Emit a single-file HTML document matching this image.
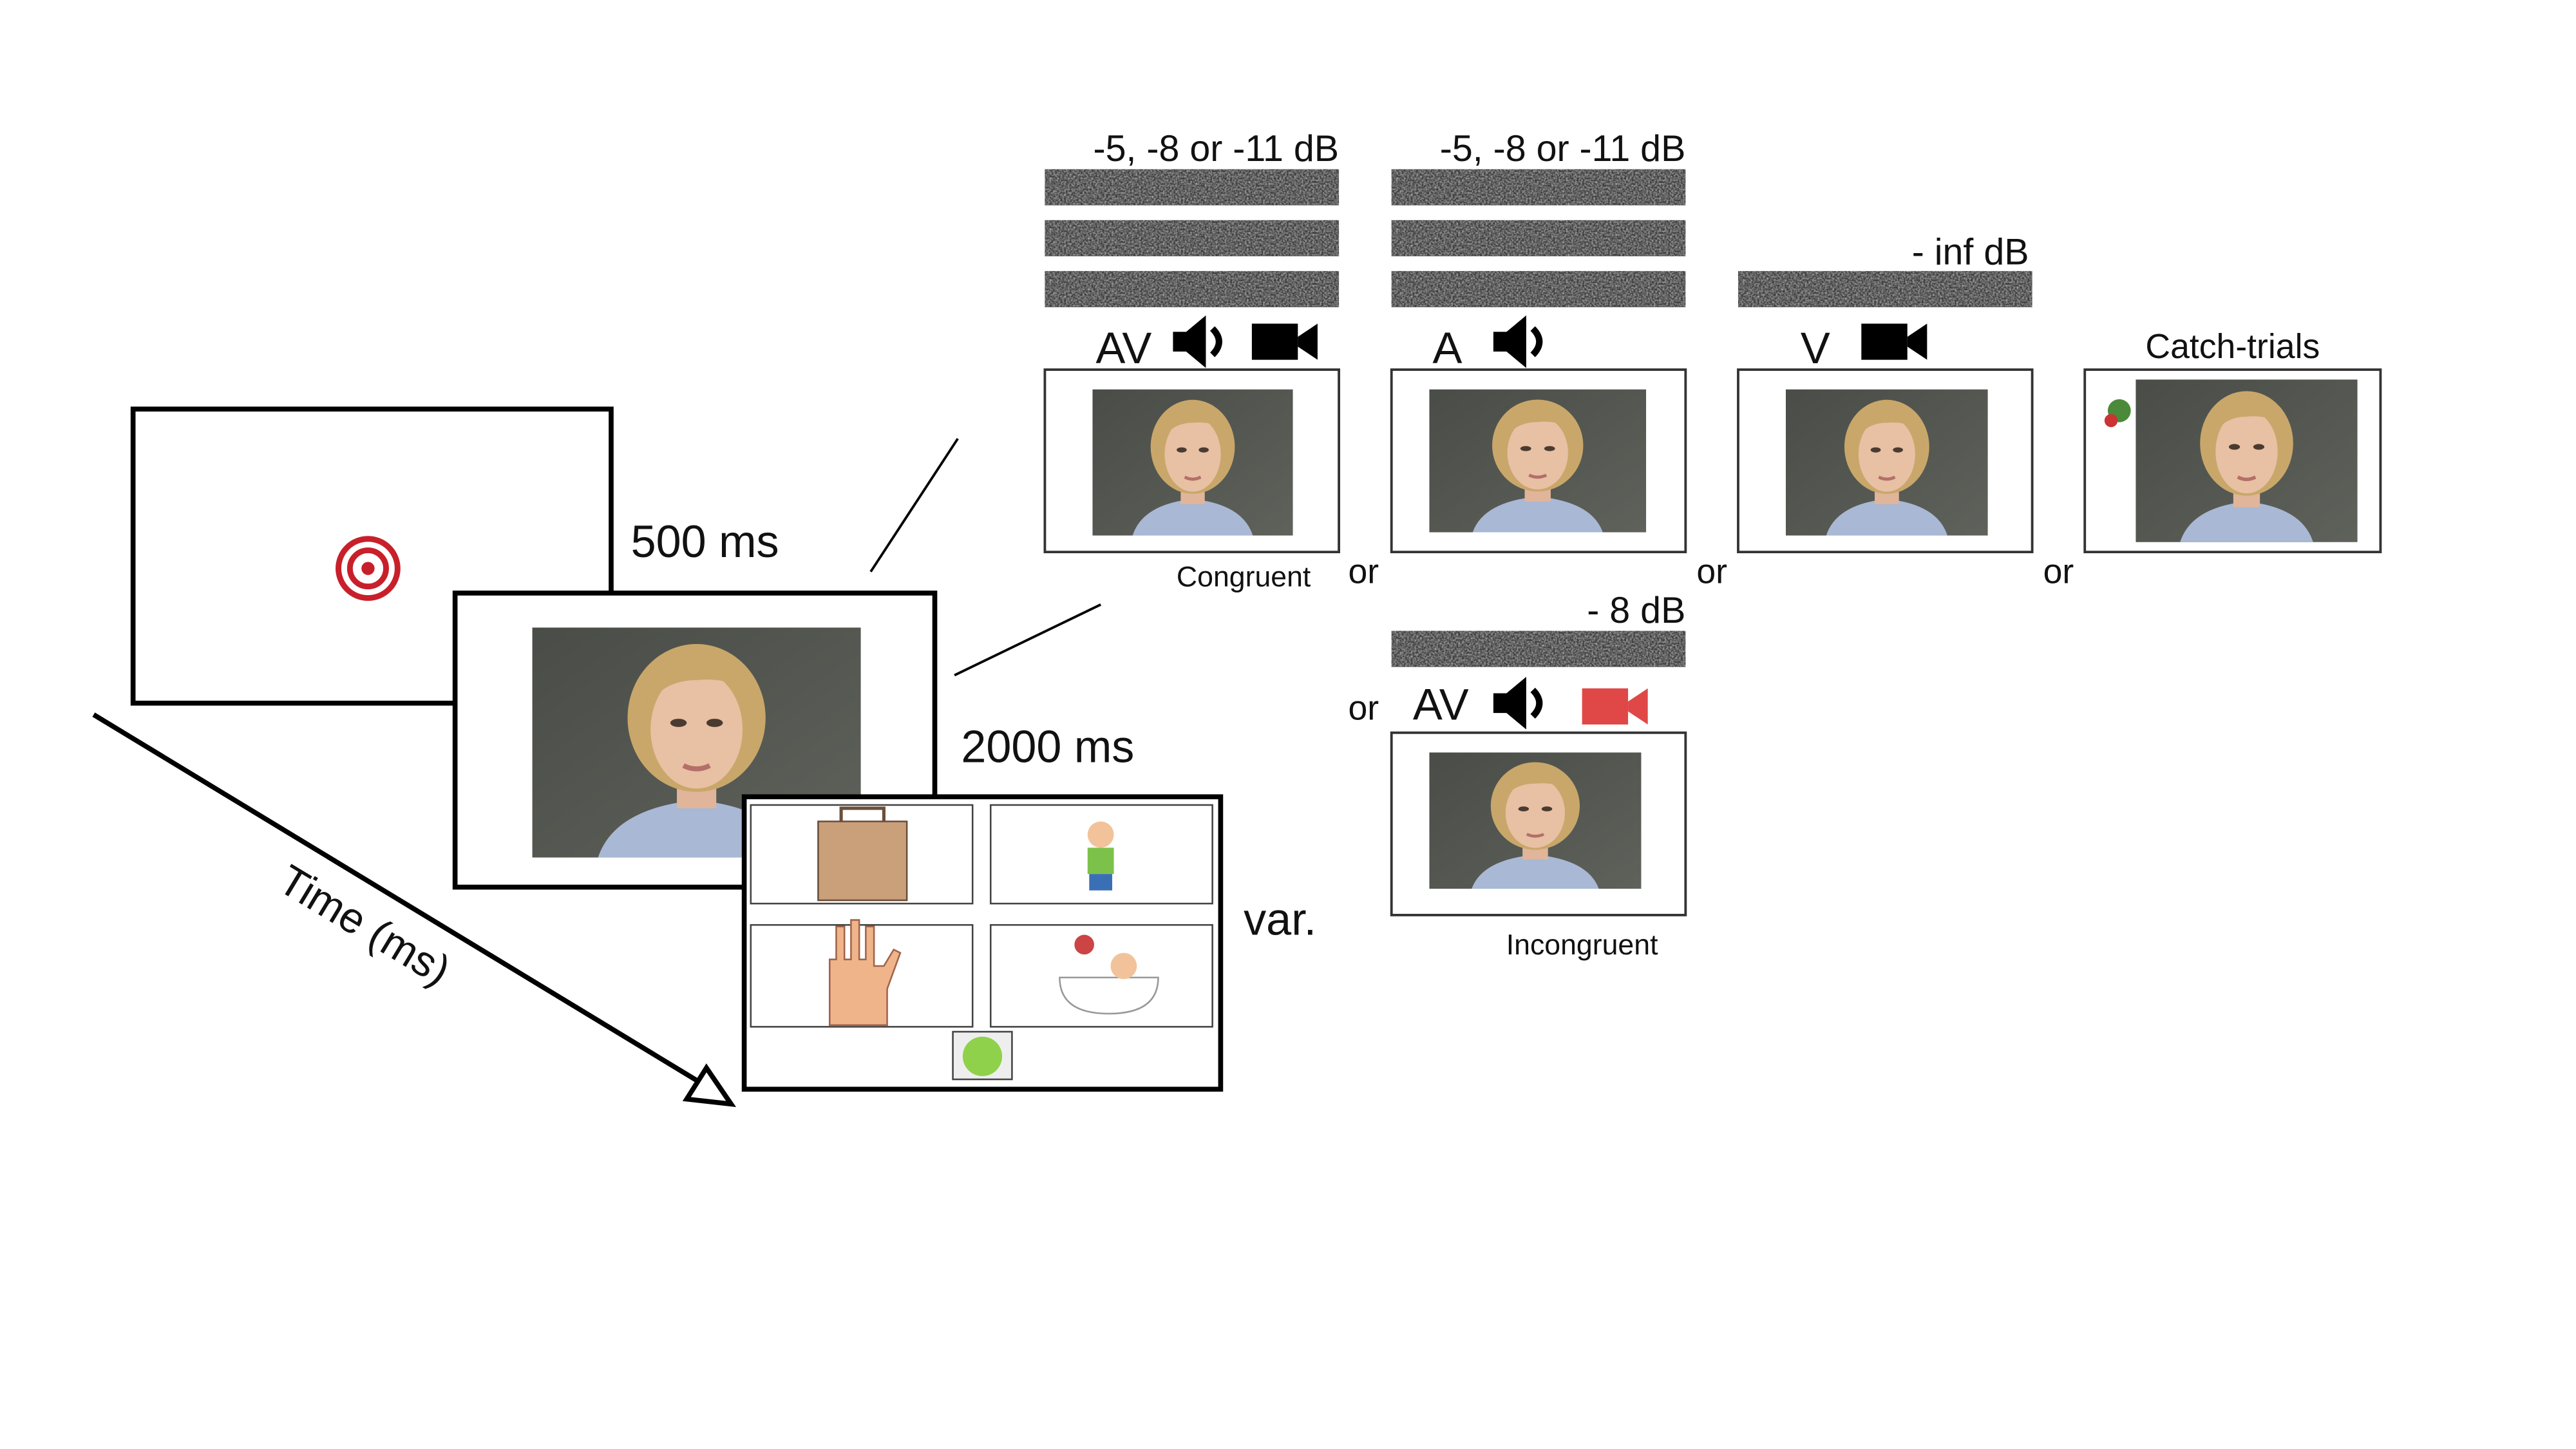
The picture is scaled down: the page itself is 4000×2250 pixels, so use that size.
<!DOCTYPE html>
<html><head><meta charset="utf-8"><style>
html,body{margin:0;padding:0;background:#fff;}
svg{display:block;}
text{font-family:"Liberation Sans",sans-serif;fill:#111;}
</style></head><body>
<svg width="4000" height="2250" viewBox="0 0 1568 882" xmlns="http://www.w3.org/2000/svg">
<defs>
<filter id="nz" x="0" y="0" width="100%" height="100%">
<feTurbulence type="fractalNoise" baseFrequency="0.9" numOctaves="2" seed="3"/>
<feColorMatrix type="matrix" values="0 0 0 0 0.55  0 0 0 0 0.55  0 0 0 0 0.55  0 0 0 -1.4 1.0"/>
</filter>
<linearGradient id="bg" x1="0" y1="0" x2="1" y2="1">
<stop offset="0" stop-color="#4a4d47"/><stop offset="1" stop-color="#5e625b"/></linearGradient>
<symbol id="photo" viewBox="0 0 200 140" preserveAspectRatio="none">
<rect width="200" height="140" fill="url(#bg)"/>
<path d="M40 140 Q50 110 100 105 Q150 110 160 140Z" fill="#a9b8d4"/>
<rect x="88" y="80" width="24" height="30" fill="#e0b59a"/>
<ellipse cx="100" cy="55" rx="42" ry="45" fill="#c9a76a"/>
<ellipse cx="100" cy="62" rx="28" ry="36" fill="#e8c0a4"/>
<path d="M70 40 Q100 10 132 40 Q120 30 100 32 Q80 32 70 48Z" fill="#c9a76a"/>
<ellipse cx="89" cy="58" rx="5" ry="2.5" fill="#4a3b30"/>
<ellipse cx="111" cy="58" rx="5" ry="2.5" fill="#4a3b30"/>
<path d="M92 84 Q100 88 108 84" stroke="#b36f68" stroke-width="3" fill="none"/>
</symbol>
<g id="spk"><path d="M-16 -6 h8 l12 -10 v32 l-12 -10 h-8z" fill="#000"/><path d="M8 -8 Q16 0 8 8" stroke="#000" stroke-width="4" fill="none"/></g>
<g id="cam"><rect x="-20" y="-11" width="28" height="22" fill="#000"/><path d="M8 -3 L20 -11 V11 L8 3Z" fill="#000"/></g>
<g id="bar"><rect width="179" height="22" fill="#3a3a3a"/><rect width="179" height="22" filter="url(#nz)"/></g>
</defs>

<rect x="81" y="249" width="291" height="179" fill="#fff" stroke="#000" stroke-width="3"/>
<circle cx="224" cy="346" r="18" fill="none" stroke="#c8202a" stroke-width="3.5"/>
<circle cx="224" cy="346" r="11" fill="none" stroke="#c8202a" stroke-width="3.5"/>
<circle cx="224" cy="346" r="4" fill="#c8202a"/>
<text x="384" y="339" font-size="27.5">500 ms</text>

<rect x="277" y="361" width="292" height="179" fill="#fff" stroke="#000" stroke-width="3"/>
<use href="#photo" x="324" y="382" width="200" height="140"/>
<text x="585" y="464" font-size="27.5">2000 ms</text>

<rect x="453" y="485" width="290" height="178" fill="#fff" stroke="#000" stroke-width="3"/>
<g fill="#fff" stroke="#444" stroke-width="1">
<rect x="457" y="490" width="135" height="60"/><rect x="603" y="490" width="135" height="60"/>
<rect x="457" y="563" width="135" height="62"/><rect x="603" y="563" width="135" height="62"/>
<rect x="580" y="628" width="36" height="29" fill="#eee"/></g>
<rect x="498" y="500" width="54" height="48" fill="#c9a07a" stroke="#6b4f3a"/>
<path d="M512 500 v-8 h26 v8" stroke="#6b4f3a" fill="none" stroke-width="2"/>
<path d="M505 624 v-40 h4 v-20 h5 v20 h4 v-24 h5 v24 h4 v-20 h5 v24 h6 l6 -10 l4 2 l-8 22 v22z" fill="#f0b48a" stroke="#a0644a"/>
<circle cx="670" cy="508" r="8" fill="#f2c39a"/><rect x="662" y="516" width="16" height="16" fill="#7cc24a"/><rect x="663" y="532" width="14" height="10" fill="#3b6fb5"/>
<path d="M645 595 h60 q0 22 -30 22 q-30 0 -30 -22z" fill="#fff" stroke="#999"/><circle cx="684" cy="588" r="8" fill="#f2c39a"/><circle cx="660" cy="575" r="6" fill="#c44"/>
<circle cx="598" cy="643" r="12" fill="#8fd14a"/>
<text x="757" y="569" font-size="27.5">var.</text>

<line x1="57" y1="435" x2="428" y2="660" stroke="#000" stroke-width="3"/>
<path d="M445 672 L418 669 L430 650Z" fill="#fff" stroke="#000" stroke-width="3"/>
<text x="222" y="572" font-size="26" text-anchor="middle" transform="rotate(31 222 563)">Time (ms)</text>

<line x1="530" y1="348" x2="583" y2="267" stroke="#000" stroke-width="1.5"/>
<line x1="581" y1="411" x2="670" y2="368" stroke="#000" stroke-width="1.5"/>

<use href="#bar" x="636" y="103"/><use href="#bar" x="636" y="134"/><use href="#bar" x="636" y="165"/>
<use href="#bar" x="847" y="103"/><use href="#bar" x="847" y="134"/><use href="#bar" x="847" y="165"/>
<use href="#bar" x="1058" y="165"/><use href="#bar" x="847" y="384"/>
<text x="815" y="98" font-size="22.5" text-anchor="end">-5, -8 or -11 dB</text>
<text x="1026" y="98" font-size="22.5" text-anchor="end">-5, -8 or -11 dB</text>
<text x="1235" y="161" font-size="22.5" text-anchor="end">- inf dB</text>
<text x="1026" y="379" font-size="22.5" text-anchor="end">- 8 dB</text>

<text x="667" y="221" font-size="27">AV</text>
<use href="#spk" x="730" y="208"/><use href="#cam" x="782" y="208"/>
<text x="872" y="221" font-size="27">A</text>
<use href="#spk" x="925" y="208"/>
<text x="1096" y="221" font-size="27">V</text>
<use href="#cam" x="1153" y="208"/>
<text x="1359" y="218" font-size="21" text-anchor="middle">Catch-trials</text>

<g fill="#fff" stroke="#333" stroke-width="1.5">
<rect x="636" y="225" width="179" height="111"/><rect x="847" y="225" width="179" height="111"/>
<rect x="1058" y="225" width="179" height="111"/><rect x="1269" y="225" width="180" height="111"/>
<rect x="847" y="446" width="179" height="111"/></g>
<use href="#photo" x="665" y="237" width="122" height="89"/>
<use href="#photo" x="870" y="237" width="132" height="87"/>
<use href="#photo" x="1087" y="237" width="123" height="89"/>
<use href="#photo" x="1300" y="231" width="135" height="99"/>
<use href="#photo" x="870" y="458" width="129" height="83"/>
<circle cx="1290" cy="250" r="7" fill="#4a8a3a"/><circle cx="1285" cy="256" r="4" fill="#c33"/>

<text x="757" y="357" font-size="17.5" text-anchor="middle">Congruent</text>
<text x="830" y="355" font-size="21" text-anchor="middle">or</text>
<text x="1042" y="355" font-size="21" text-anchor="middle">or</text>
<text x="1253" y="355" font-size="21" text-anchor="middle">or</text>

<text x="830" y="438" font-size="21" text-anchor="middle">or</text>
<text x="860" y="438" font-size="27">AV</text>
<use href="#spk" x="925" y="428"/>
<g transform="translate(983 430)"><rect x="-20" y="-11" width="28" height="22" fill="#e04848"/><path d="M8 -3 L20 -11 V11 L8 3Z" fill="#e04848"/></g>
<text x="963" y="581" font-size="17.5" text-anchor="middle">Incongruent</text>
</svg>
</body></html>
